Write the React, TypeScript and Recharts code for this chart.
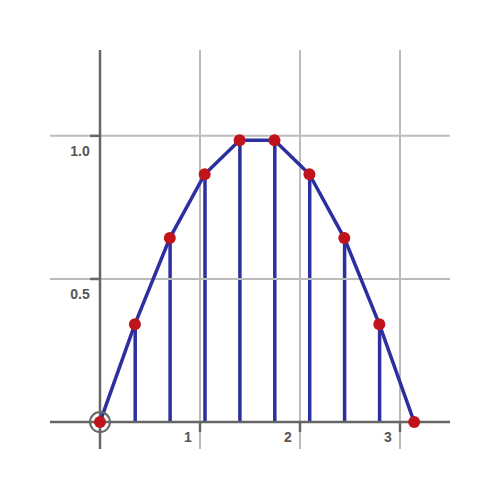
import { ComposedChart, Line, Bar, XAxis, YAxis, ReferenceLine, ReferenceDot } from 'recharts'

// sample points (x in radians, y = height)
const xs = [0, 0.349, 0.698, 1.047, 1.396, 1.745, 2.094, 2.443, 2.793, 3.142]
const ys = [0, 0.342, 0.643, 0.866, 0.985, 0.985, 0.866, 0.643, 0.342, 0]
const xTicks = [1, 2, 3]
const yTicks = [0.5, 1]
const yTickLabels = ['0.5', '1.0']

const data = xs.map((x, i) => ({ x, y: ys[i] }))

const AXIS = '#666'
const GRID = '#bbb'
const BLUE = '#2B2FA0'
const RED = '#C0141A'
const labelStyle = { fontFamily: 'Liberation Sans, Arial, sans-serif', fontSize: 14, fontWeight: 700, fill: '#555' }

export default function App() {
  return (
    <div style={{ position: 'absolute', left: 0, top: 0, width: 500, height: 500, background: '#fff' }}>
      <ComposedChart width={500} height={500} data={data} margin={{ top: 50, right: 50, bottom: 51, left: 50 }}>
        <XAxis type="number" dataKey="x" domain={[-0.5, 3.5]} hide />
        <YAxis type="number" domain={[-0.094, 1.3]} hide allowDataOverflow />
        {xTicks.map((t) => (
          <ReferenceLine key={'gx' + t} x={t} stroke={GRID} strokeWidth={2} />
        ))}
        {yTicks.map((t) => (
          <ReferenceLine key={'gy' + t} y={t} stroke={GRID} strokeWidth={2} />
        ))}
        <ReferenceLine y={0} stroke={AXIS} strokeWidth={2.5} />
        <ReferenceLine x={0} stroke={AXIS} strokeWidth={2.5} />
        {xTicks.map((t) => (
          <ReferenceLine
            key={'tx' + t}
            segment={[{ x: t, y: 0 }, { x: t, y: -0.035 }]}
            stroke={AXIS}
            strokeWidth={2.5}
            label={(p: any) => (
              <text x={p.viewBox.x - 12} y={p.viewBox.y + 16} textAnchor="middle" dominantBaseline="middle" {...labelStyle}>
                {t}
              </text>
            )}
          />
        ))}
        {yTicks.map((t, i) => (
          <ReferenceLine
            key={'ty' + t}
            segment={[{ x: -0.1, y: t }, { x: 0, y: t }]}
            stroke={AXIS}
            strokeWidth={2.5}
            label={(p: any) => (
              <text x={p.viewBox.x - 10} y={p.viewBox.y + 16} textAnchor="middle" dominantBaseline="middle" {...labelStyle}>
                {yTickLabels[i]}
              </text>
            )}
          />
        ))}
        <Bar dataKey="y" barSize={3.5} fill={BLUE} isAnimationActive={false} />
        <Line
          dataKey="y"
          stroke={BLUE}
          strokeWidth={3.5}
          dot={{ r: 6, fill: RED, stroke: RED, strokeWidth: 0 }}
          isAnimationActive={false}
        />
        <ReferenceDot x={0} y={0} r={10} fill="none" stroke={AXIS} strokeWidth={2} />
      </ComposedChart>
    </div>
  )
}
